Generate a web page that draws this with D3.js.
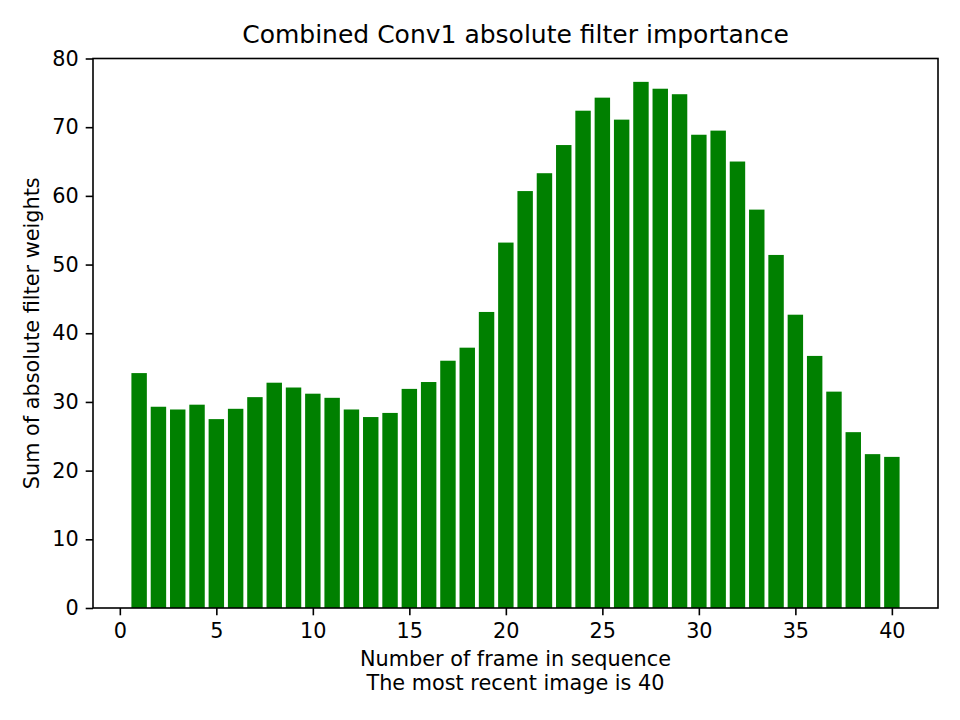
<!DOCTYPE html>
<html>
<head>
  <meta charset="utf-8">
  <title>Combined Conv1 absolute filter importance</title>
  <script src="https://d3js.org/d3.v7.min.js"></script>
  <style>
    html, body { margin: 0; background: #fff; }
    svg { display: block; }
    text { font-family: "DejaVu Sans", sans-serif; fill: #000; }
  </style>
</head>
<body>
  <svg id="chart" width="960" height="720"></svg>
  <script>
  // frame numbers 1..40 and the summed absolute weights
  const frames = d3.range(1, 41);
  const weights = [
    34.2, 29.3, 28.9, 29.6, 27.5, 29.0, 30.7, 32.8, 32.1, 31.2,
    30.6, 28.9, 27.8, 28.4, 31.9, 32.9, 36.0, 37.9, 43.1, 53.2,
    60.7, 63.3, 67.4, 72.4, 74.3, 71.1, 76.6, 75.6, 74.8, 68.9,
    69.5, 65.0, 58.0, 51.4, 42.7, 36.7, 31.5, 25.6, 22.4, 22.0
  ];
  const xTicks = [0, 5, 10, 15, 20, 25, 30, 35, 40];
  const yTicks = [0, 10, 20, 30, 40, 50, 60, 70, 80];

  const svg = d3.select("#chart");
  const plotL = 93, plotR = 938, plotT = 58.5, plotB = 608;
  const barW = 0.8;
  const fs = 20.8;

  // matplotlib-style 5% margins around the bars
  const x0 = frames[0] - barW / 2, x1 = frames[frames.length - 1] + barW / 2;
  const pad = (x1 - x0) * 0.05;
  const x = d3.scaleLinear().domain([x0 - pad, x1 + pad]).range([plotL, plotR]);
  const y = d3.scaleLinear().domain([0, 80]).range([plotB, plotT]);

  svg.append("g")
    .selectAll("rect")
    .data(frames)
    .join("rect")
    .attr("x", d => x(d - barW / 2))
    .attr("width", d => x(d + barW / 2) - x(d - barW / 2))
    .attr("y", (d, i) => y(weights[i]))
    .attr("height", (d, i) => y(0) - y(weights[i]))
    .attr("fill", "#008000");

  const xAxis = svg.append("g")
    .attr("transform", `translate(0,${plotB})`)
    .call(d3.axisBottom(x).tickValues(xTicks).tickSize(7.3).tickPadding(8).tickFormat(d3.format("d")));
  const yAxis = svg.append("g")
    .attr("transform", `translate(${plotL},0)`)
    .call(d3.axisLeft(y).tickValues(yTicks).tickSize(7.3).tickPadding(7).tickFormat(d3.format("d")));

  [xAxis, yAxis].forEach(a => {
    a.select(".domain").remove();
    a.selectAll("line").attr("stroke", "#000").attr("stroke-width", 1.6);
    a.selectAll("text").attr("font-size", fs).attr("font-family", "DejaVu Sans").attr("fill", "#000");
  });

  // frame around the axes
  svg.append("rect")
    .attr("x", plotL).attr("y", plotT)
    .attr("width", plotR - plotL).attr("height", plotB - plotT)
    .attr("fill", "none").attr("stroke", "#000").attr("stroke-width", 1.6);

  svg.append("text")
    .attr("x", (plotL + plotR) / 2).attr("y", 43)
    .attr("text-anchor", "middle").attr("font-size", 25)
    .text("Combined Conv1 absolute filter importance");

  svg.append("text")
    .attr("x", (plotL + plotR) / 2).attr("y", 666)
    .attr("text-anchor", "middle").attr("font-size", fs)
    .text("Number of frame in sequence");
  svg.append("text")
    .attr("x", (plotL + plotR) / 2).attr("y", 690)
    .attr("text-anchor", "middle").attr("font-size", fs)
    .text("The most recent image is 40");

  svg.append("text")
    .attr("transform", `translate(38.5,${(plotT + plotB) / 2}) rotate(-90)`)
    .attr("text-anchor", "middle").attr("font-size", fs)
    .text("Sum of absolute filter weights");
  </script>
</body>
</html>
